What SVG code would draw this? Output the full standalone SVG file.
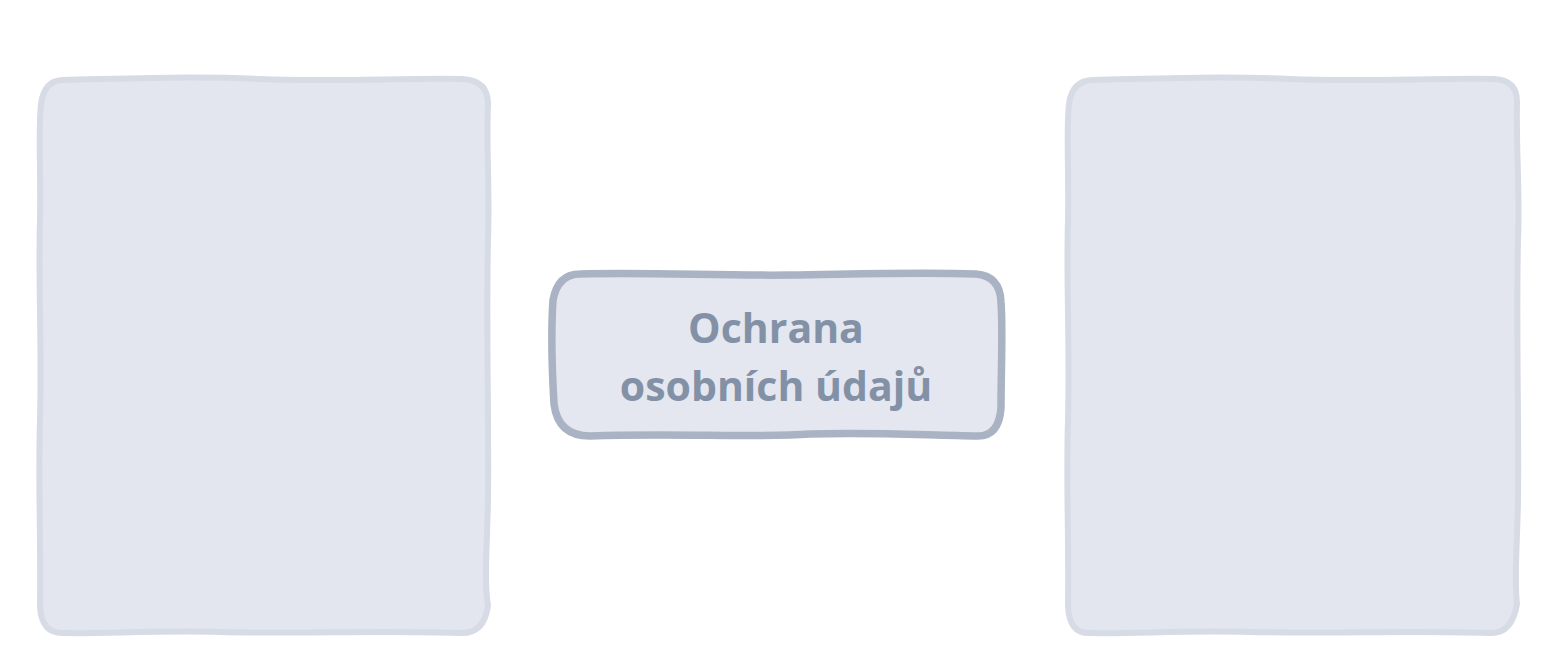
<svg xmlns="http://www.w3.org/2000/svg" width="1553" height="672" viewBox="0 0 1553 672">
<style>
.panel{fill:#e3e6ee;stroke:#d6dbe5;stroke-width:6;stroke-linejoin:round}
.box{fill:#e4e7ef;stroke:#a9b3c4;stroke-width:7.5;stroke-linejoin:round}
.lbl{font-family:"Open Sans","Noto Sans","Liberation Sans",sans-serif;font-weight:700;font-size:41px;fill:#8391a7;text-anchor:middle}
</style>
<rect width="1553" height="672" fill="#ffffff"/>
<g id="left-panel">
<path class="panel" d="M62 80 C150 78 200 76 260 79 C330 82 400 78 462 79 Q488 80 488 104 C486 150 490 190 488 240 C486 330 489 420 488 500 C487 550 484 580 488 606 Q484 634 460 633 C380 630 300 634 220 632 C160 630 100 634 64 633 Q41 634 40 606 C41 540 38 480 40 420 C42 340 38 280 40 220 C41 170 38 130 41 104 Q44 81 62 80 Z"/>
</g>
<g id="right-panel">
<path class="panel" d="M1092 80 C1180 78 1230 76 1290 79 C1360 82 1430 78 1494 79 Q1518 80 1517 104 C1516 150 1520 190 1518 240 C1516 330 1519 420 1518 500 C1517 550 1514 580 1517 604 Q1512 634 1490 633 C1410 630 1330 634 1250 632 C1190 630 1130 634 1090 633 Q1069 634 1068 606 C1069 540 1066 480 1068 420 C1070 340 1066 280 1068 220 C1069 170 1066 130 1069 104 Q1072 81 1092 80 Z"/>
</g>
<g id="center-node">
<path class="box" d="M580 274 C650 272 720 276 790 275 C860 274 920 272 976 274 Q1000 276 1001 302 C1003 330 1001 370 1001 408 Q999 436 978 436 C920 435 870 432 810 434 C750 438 680 433 590 436 Q558 436 554 404 C552 370 551 330 553 300 Q558 274 580 274 Z"/>
<text class="lbl" x="776" y="343">Ochrana</text>
<text class="lbl" x="776" y="401">osobních údajů</text>
</g>
<g id="connectors"></g>
</svg>
